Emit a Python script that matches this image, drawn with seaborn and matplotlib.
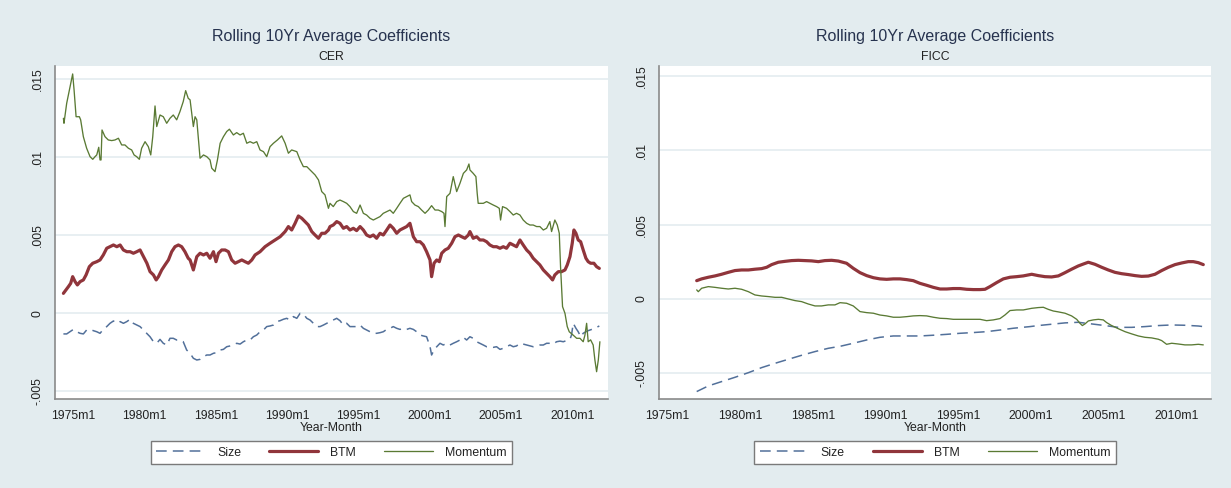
import numpy as np
import pandas as pd
import matplotlib
matplotlib.use("Agg")
import matplotlib.pyplot as plt
import seaborn as sns

# ---------------- DATA ----------------
# CER panel
cer_mom_year = [1974.29,1974.33,1974.52,1974.71,1974.94,1975.04,1975.18,1975.41,1975.50,1975.69,1975.92,1976.16,1976.35,1976.51,1976.63,1976.77,1976.86,1976.93,1977.00,1977.21,1977.44,1977.68,1977.91,1978.15,1978.38,1978.61,1978.85,1979.08,1979.25,1979.43,1979.62,1979.78,1980.02,1980.25,1980.42,1980.56,1980.72,1980.84,1981.07,1981.30,1981.54,1981.77,1982.00,1982.24,1982.47,1982.70,1982.87,1983.05,1983.18,1983.41,1983.53,1983.65,1983.76,1983.88,1984.12,1984.35,1984.58,1984.70,1984.93,1985.10,1985.29,1985.52,1985.75,1985.94,1986.22,1986.45,1986.69,1986.92,1987.16,1987.39,1987.62,1987.86,1988.09,1988.33,1988.56,1988.79,1989.03,1989.31,1989.61,1989.85,1990.08,1990.31,1990.67,1990.90,1991.13,1991.37,1991.60,1991.95,1992.19,1992.42,1992.65,1992.89,1993.00,1993.23,1993.47,1993.70,1993.94,1994.17,1994.40,1994.64,1994.87,1995.11,1995.34,1995.57,1995.81,1996.04,1996.27,1996.51,1996.74,1996.98,1997.21,1997.44,1997.68,1997.91,1998.15,1998.38,1998.61,1998.73,1998.96,1999.20,1999.43,1999.67,1999.90,2000.13,2000.37,2000.60,2000.84,2001.00,2001.07,2001.19,2001.42,2001.65,2001.89,2002.12,2002.36,2002.59,2002.75,2002.82,2003.05,2003.24,2003.33,2003.40,2003.76,2003.99,2004.22,2004.46,2004.69,2004.88,2004.97,2005.11,2005.39,2005.63,2005.86,2006.09,2006.33,2006.56,2006.80,2007.03,2007.26,2007.50,2007.73,2007.97,2008.20,2008.43,2008.55,2008.78,2008.95,2009.09,2009.18,2009.32,2009.49,2009.65,2009.79,2010.07,2010.31,2010.54,2010.77,2010.89,2011.01,2011.12,2011.29,2011.47,2011.59,2011.71,2011.83,2011.94]
cer_mom_val = [.01250,.01218,.01346,.01430,.01534,.01430,.01260,.01260,.01240,.01132,.01058,.01004,.00987,.01004,.01015,.01064,.00983,.00983,.01175,.01132,.01111,.01107,.01111,.01122,.01079,.01079,.01058,.01047,.01015,.01004,.00987,.01058,.01100,.01068,.01015,.01132,.01329,.01197,.01271,.01260,.01218,.01250,.01271,.01240,.01293,.01357,.01427,.01378,.01368,.01197,.01260,.01240,.01122,.00994,.01015,.01004,.00983,.00930,.00908,.00983,.01090,.01132,.01165,.01180,.01143,.01158,.01143,.01154,.01090,.01100,.01090,.01100,.01047,.01036,.01004,.01068,.01090,.01111,.01137,.01090,.01026,.01047,.01036,.00983,.00940,.00940,.00919,.00887,.00855,.00780,.00759,.00673,.00705,.00684,.00716,.00726,.00716,.00705,.00684,.00652,.00641,.00694,.00641,.00630,.00609,.00598,.00609,.00620,.00641,.00652,.00662,.00641,.00673,.00705,.00737,.00748,.00759,.00716,.00694,.00684,.00662,.00641,.00662,.00690,.00662,.00662,.00652,.00641,.00556,.00748,.00769,.00876,.00780,.00833,.00897,.00919,.00957,.00919,.00897,.00876,.00769,.00705,.00705,.00716,.00705,.00694,.00684,.00673,.00598,.00684,.00673,.00652,.00630,.00641,.00630,.00598,.00577,.00566,.00566,.00556,.00556,.00534,.00545,.00588,.00524,.00598,.00566,.00513,.00299,.00043,.00000,-.00085,-.00118,-.00140,-.00160,-.00160,-.00182,-.00140,-.00064,-.00182,-.00170,-.00203,-.00299,-.00374,-.00299,-.00182]

cer_btm_year = [1974.29,1974.47,1974.64,1974.80,1974.94,1975.11,1975.27,1975.46,1975.69,1975.88,1976.11,1976.35,1976.63,1976.86,1977.09,1977.33,1977.56,1977.80,1978.04,1978.27,1978.50,1978.74,1978.97,1979.20,1979.44,1979.67,1979.91,1980.15,1980.37,1980.61,1980.80,1980.96,1981.19,1981.42,1981.66,1981.89,1982.12,1982.36,1982.59,1982.82,1983.05,1983.18,1983.41,1983.65,1983.88,1984.12,1984.35,1984.58,1984.82,1985.00,1985.17,1985.40,1985.64,1985.87,1986.10,1986.34,1986.57,1986.81,1987.04,1987.27,1987.51,1987.74,1988.09,1988.44,1988.79,1989.15,1989.50,1989.85,1990.08,1990.31,1990.55,1990.78,1991.02,1991.25,1991.48,1991.72,1991.95,1992.19,1992.42,1992.65,1992.89,1993.00,1993.23,1993.47,1993.70,1993.94,1994.17,1994.40,1994.64,1994.87,1995.11,1995.34,1995.57,1995.81,1996.04,1996.27,1996.51,1996.74,1996.98,1997.21,1997.44,1997.68,1997.91,1998.15,1998.38,1998.61,1998.85,1999.08,1999.32,1999.55,1999.78,2000.02,2000.13,2000.30,2000.49,2000.67,2000.84,2001.07,2001.30,2001.54,2001.77,2002.01,2002.24,2002.47,2002.71,2002.82,2003.05,2003.29,2003.52,2003.76,2003.99,2004.22,2004.46,2004.69,2004.93,2005.16,2005.39,2005.63,2005.86,2006.09,2006.33,2006.56,2006.80,2007.03,2007.26,2007.50,2007.73,2007.97,2008.20,2008.43,2008.62,2008.78,2009.02,2009.25,2009.49,2009.65,2009.84,2010.00,2010.12,2010.26,2010.42,2010.59,2010.77,2010.96,2011.12,2011.29,2011.52,2011.71,2011.90]
cer_btm_val = [.00128,.00150,.00171,.00192,.00235,.00203,.00182,.00203,.00214,.00246,.00299,.00321,.00331,.00342,.00374,.00417,.00427,.00438,.00427,.00438,.00406,.00395,.00395,.00385,.00395,.00406,.00363,.00321,.00267,.00246,.00214,.00235,.00278,.00310,.00342,.00395,.00427,.00438,.00427,.00395,.00353,.00342,.00278,.00363,.00385,.00374,.00385,.00353,.00395,.00331,.00385,.00406,.00406,.00395,.00342,.00321,.00331,.00342,.00331,.00321,.00342,.00374,.00395,.00427,.00449,.00470,.00491,.00524,.00556,.00534,.00577,.00624,.00609,.00588,.00566,.00524,.00502,.00481,.00513,.00513,.00534,.00556,.00566,.00588,.00577,.00545,.00556,.00534,.00545,.00530,.00556,.00534,.00502,.00491,.00502,.00481,.00513,.00502,.00534,.00566,.00545,.00513,.00534,.00545,.00556,.00577,.00491,.00459,.00459,.00438,.00395,.00342,.00235,.00321,.00342,.00331,.00385,.00406,.00417,.00449,.00491,.00502,.00491,.00481,.00502,.00524,.00481,.00491,.00470,.00470,.00459,.00438,.00427,.00427,.00417,.00427,.00417,.00449,.00438,.00427,.00470,.00438,.00406,.00385,.00353,.00331,.00310,.00278,.00256,.00235,.00214,.00246,.00267,.00267,.00278,.00310,.00363,.00449,.00534,.00513,.00470,.00459,.00406,.00353,.00331,.00321,.00321,.00299,.00288]

cer_size_year = [1974.29,1974.52,1974.75,1974.99,1975.22,1975.46,1975.69,1975.92,1976.16,1976.39,1976.63,1976.86,1977.09,1977.33,1977.56,1977.80,1978.04,1978.27,1978.50,1978.74,1978.97,1979.20,1979.44,1979.67,1979.91,1980.15,1980.37,1980.61,1980.84,1981.07,1981.30,1981.54,1981.77,1982.00,1982.24,1982.47,1982.70,1982.94,1983.18,1983.41,1983.65,1983.88,1984.12,1984.35,1984.58,1984.82,1985.05,1985.29,1985.52,1985.75,1985.99,1986.22,1986.45,1986.69,1986.92,1987.16,1987.39,1987.62,1987.86,1988.09,1988.33,1988.56,1988.79,1989.03,1989.26,1989.50,1989.73,1989.96,1990.20,1990.43,1990.67,1990.90,1991.13,1991.37,1991.60,1991.83,1992.07,1992.30,1992.54,1992.77,1993.00,1993.23,1993.47,1993.70,1993.94,1994.17,1994.40,1994.64,1994.87,1995.11,1995.34,1995.57,1995.81,1996.04,1996.27,1996.51,1996.74,1996.98,1997.21,1997.44,1997.68,1997.91,1998.15,1998.38,1998.61,1998.85,1999.08,1999.32,1999.55,1999.78,2000.02,2000.13,2000.30,2000.49,2000.72,2000.95,2001.19,2001.42,2001.65,2001.89,2002.12,2002.36,2002.59,2002.82,2003.05,2003.29,2003.52,2003.76,2003.99,2004.22,2004.46,2004.69,2004.93,2005.16,2005.39,2005.63,2005.86,2006.09,2006.33,2006.56,2006.80,2007.03,2007.26,2007.50,2007.73,2007.97,2008.20,2008.43,2008.67,2008.90,2009.14,2009.37,2009.60,2009.84,2009.95,2010.07,2010.26,2010.42,2010.59,2010.77,2010.96,2011.12,2011.36,2011.59,2011.90]
cer_size_val = [-.00132,-.00132,-.00118,-.00103,-.00118,-.00128,-.00132,-.00107,-.00103,-.00111,-.00118,-.00128,-.00103,-.00085,-.00064,-.00049,-.00064,-.00053,-.00064,-.00053,-.00038,-.00064,-.00075,-.00085,-.00107,-.00128,-.00150,-.00182,-.00192,-.00167,-.00192,-.00203,-.00160,-.00160,-.00171,-.00171,-.00182,-.00235,-.00256,-.00288,-.00299,-.00295,-.00278,-.00267,-.00267,-.00256,-.00252,-.00235,-.00231,-.00214,-.00209,-.00203,-.00192,-.00197,-.00182,-.00171,-.00171,-.00150,-.00139,-.00118,-.00107,-.00085,-.00081,-.00075,-.00053,-.00047,-.00038,-.00032,-.00043,-.00021,-.00032,.00000,-.00004,-.00032,-.00043,-.00064,-.00085,-.00085,-.00075,-.00064,-.00053,-.00043,-.00032,-.00047,-.00075,-.00064,-.00085,-.00085,-.00085,-.00075,-.00096,-.00107,-.00118,-.00128,-.00128,-.00124,-.00118,-.00103,-.00096,-.00085,-.00096,-.00103,-.00096,-.00103,-.00096,-.00103,-.00118,-.00139,-.00145,-.00150,-.00214,-.00267,-.00235,-.00214,-.00192,-.00203,-.00192,-.00203,-.00192,-.00182,-.00171,-.00154,-.00171,-.00150,-.00160,-.00182,-.00192,-.00203,-.00214,-.00214,-.00218,-.00214,-.00231,-.00224,-.00214,-.00203,-.00214,-.00209,-.00192,-.00197,-.00203,-.00209,-.00214,-.00209,-.00203,-.00203,-.00192,-.00192,-.00197,-.00182,-.00178,-.00182,-.00175,-.00167,-.00139,-.00064,-.00096,-.00118,-.00150,-.00128,-.00118,-.00111,-.00103,-.00096,-.00081]

# FICC panel
ficc_btm_year = [1977.02,1977.36,1977.82,1978.28,1978.73,1979.19,1979.65,1980.11,1980.57,1981.02,1981.48,1981.83,1982.17,1982.63,1983.09,1983.54,1984.00,1984.46,1984.92,1985.38,1985.83,1986.29,1986.75,1987.32,1987.78,1988.24,1988.70,1989.16,1989.61,1990.07,1990.53,1990.99,1991.45,1991.90,1992.36,1992.82,1993.28,1993.74,1994.20,1994.65,1995.11,1995.57,1996.03,1996.49,1996.83,1997.17,1997.63,1998.09,1998.55,1999.01,1999.46,2000.04,2000.49,2000.95,2001.41,2001.87,2002.33,2002.78,2003.24,2003.59,2003.93,2004.39,2004.85,2005.30,2005.76,2006.22,2006.68,2007.14,2007.59,2008.05,2008.51,2008.97,2009.43,2009.89,2010.34,2010.80,2011.14,2011.49,2011.83]
ficc_btm_val = [.00123,.00135,.00146,.00155,.00166,.00179,.00191,.00195,.00195,.00200,.00204,.00213,.00231,.00247,.00253,.00258,.00260,.00258,.00256,.00251,.00258,.00260,.00255,.00240,.00206,.00177,.00157,.00143,.00135,.00132,.00135,.00135,.00130,.00123,.00105,.00092,.00078,.00067,.00067,.00070,.00070,.00065,.00063,.00063,.00065,.00083,.00110,.00135,.00146,.00150,.00155,.00166,.00157,.00150,.00148,.00155,.00177,.00200,.00222,.00235,.00247,.00233,.00213,.00195,.00179,.00170,.00164,.00157,.00152,.00154,.00166,.00191,.00213,.00231,.00242,.00251,.00251,.00244,.00231]

ficc_mom_year = [1977.02,1977.13,1977.36,1977.82,1978.28,1978.73,1979.19,1979.65,1980.11,1980.57,1981.02,1981.48,1981.94,1982.40,1982.86,1983.31,1983.77,1984.23,1984.69,1985.15,1985.60,1986.06,1986.52,1986.87,1987.32,1987.78,1988.24,1988.70,1989.16,1989.61,1990.07,1990.53,1990.99,1991.45,1991.90,1992.36,1992.82,1993.28,1993.74,1994.20,1994.65,1995.11,1995.57,1996.03,1996.49,1996.94,1997.40,1997.86,1998.20,1998.55,1999.01,1999.46,2000.04,2000.49,2000.84,2001.18,2001.52,2001.87,2002.33,2002.78,2003.13,2003.36,2003.52,2003.70,2003.93,2004.27,2004.62,2004.96,2005.19,2005.53,2005.99,2006.45,2006.91,2007.37,2007.82,2008.28,2008.74,2008.97,2009.31,2009.66,2010.11,2010.57,2011.03,2011.49,2011.83]
ficc_mom_val = [.00061,.00049,.00072,.00083,.00078,.00072,.00067,.00072,.00065,.00049,.00027,.00020,.00016,.00011,.00011,.00000,-.00011,-.00018,-.00034,-.00047,-.00047,-.00040,-.00040,-.00025,-.00029,-.00047,-.00085,-.00092,-.00096,-.00108,-.00114,-.00123,-.00123,-.00119,-.00114,-.00112,-.00114,-.00123,-.00130,-.00132,-.00137,-.00137,-.00137,-.00137,-.00137,-.00146,-.00141,-.00132,-.00108,-.00078,-.00074,-.00074,-.00063,-.00058,-.00056,-.00070,-.00081,-.00087,-.00096,-.00114,-.00137,-.00164,-.00179,-.00168,-.00148,-.00141,-.00137,-.00141,-.00159,-.00179,-.00200,-.00220,-.00235,-.00249,-.00258,-.00262,-.00271,-.00280,-.00305,-.00298,-.00303,-.00309,-.00309,-.00305,-.00309]

ficc_size_year = [1977.02,1977.82,1978.73,1979.65,1980.57,1981.48,1982.40,1983.31,1984.23,1985.15,1986.06,1986.90,1987.78,1988.70,1989.61,1990.53,1991.45,1992.36,1993.28,1994.20,1995.11,1996.03,1996.94,1997.86,1998.78,1999.92,2000.49,2001.41,2002.33,2003.24,2004.16,2005.07,2005.99,2006.91,2007.82,2008.74,2009.66,2010.57,2011.49,2011.83]
ficc_size_val = [-.00623,-.00585,-.00556,-.00527,-.00496,-.00462,-.00433,-.00406,-.00379,-.00354,-.00332,-.00318,-.00298,-.00276,-.00258,-.00249,-.00249,-.00249,-.00244,-.00238,-.00231,-.00226,-.00220,-.00209,-.00197,-.00186,-.00179,-.00170,-.00161,-.00157,-.00168,-.00179,-.00191,-.00191,-.00186,-.00179,-.00175,-.00177,-.00182,-.00186]

series_names = ["Size", "BTM", "Momentum"]
panel_titles = ["Rolling 10Yr Average Coefficients", "Rolling 10Yr Average Coefficients"]
panel_subtitles = ["CER", "FICC"]
xtick_years = [1975, 1980, 1985, 1990, 1995, 2000, 2005, 2010]
xtick_labels = ["1975m1", "1980m1", "1985m1", "1990m1", "1995m1", "2000m1", "2005m1", "2010m1"]
ytick_vals = [-0.005, 0.0, 0.005, 0.01, 0.015]
ytick_labels = ["-.005", "0", ".005", ".01", ".015"]
x_label = "Year-Month"

# ---------------- STYLE ----------------
sns.set_theme(style="white")
plt.rcParams["font.family"] = ["Liberation Sans", "DejaVu Sans"]

BG = "#E3ECEF"
GRID = "#E6EEF1"
AXC = "#8A8A8A"
C_SIZE = "#52709A"
C_BTM = "#90353B"
C_MOM = "#5A7A34"
TXT = "#222222"

W, H = 1231, 488
fig = plt.figure(figsize=(W / 100, H / 100), dpi=100, facecolor=BG)

def px_axes(x0, x1, y0, y1):
    return fig.add_axes([x0 / W, 1 - y1 / H, (x1 - x0) / W, (y1 - y0) / H])

panels = [
    dict(rect=(55, 608, 66, 399), xlim=(1973.70, 2012.51), ylim=(-0.00549, 0.01585),
         data=[(cer_size_year, cer_size_val), (cer_btm_year, cer_btm_val), (cer_mom_year, cer_mom_val)]),
    dict(rect=(659, 1211, 66, 399), xlim=(1974.43, 2012.36), ylim=(-0.00673, 0.01567),
         data=[(ficc_size_year, ficc_size_val), (ficc_btm_year, ficc_btm_val), (ficc_mom_year, ficc_mom_val)]),
]

styles = [
    dict(color=C_SIZE, linewidth=1.1, linestyle=(0, (7, 4))),
    dict(color=C_BTM, linewidth=2.3, linestyle="-"),
    dict(color=C_MOM, linewidth=0.95, linestyle="-"),
]

for i, p in enumerate(panels):
    x0, x1, y0, y1 = p["rect"]
    ax = px_axes(x0, x1, y0, y1)
    ax.set_facecolor("white")
    for (yr, vals), name, st in zip(p["data"], series_names, styles):
        df = pd.DataFrame({"year": yr, "value": vals})
        sns.lineplot(data=df, x="year", y="value", ax=ax, estimator=None, sort=True,
                     label=name, **st)
    ax.set_xlim(*p["xlim"])
    ax.set_ylim(*p["ylim"])
    ax.set_xticks(xtick_years)
    ax.set_xticklabels(xtick_labels, fontsize=8.8, color=TXT)
    ax.set_yticks(ytick_vals)
    ax.set_yticklabels(ytick_labels, fontsize=8.8, color=TXT, rotation=90, va="center")
    ax.tick_params(axis="both", which="major", length=4, width=1.0, color=AXC, direction="out")
    ax.tick_params(axis="x", pad=4)
    ax.tick_params(axis="y", pad=4)
    ax.set_xlabel("")
    ax.set_ylabel("")
    ax.yaxis.grid(True, color=GRID, linewidth=1.3)
    ax.xaxis.grid(False)
    ax.set_axisbelow(True)
    for s in ["top", "right"]:
        ax.spines[s].set_visible(False)
    for s in ["left", "bottom"]:
        ax.spines[s].set_color(AXC)
        ax.spines[s].set_linewidth(1.2)

    handles, labels = ax.get_legend_handles_labels()
    if ax.get_legend() is not None:
        ax.get_legend().remove()

    cx = (x0 + x1) / 2 / W
    fig.text(cx, 1 - 36 / H, panel_titles[i], ha="center", va="center",
             fontsize=11.5, color="#27334F")
    fig.text(cx, 1 - 57 / H, panel_subtitles[i], ha="center", va="center",
             fontsize=8.8, color=TXT)
    fig.text(cx, 1 - 428 / H, x_label, ha="center", va="center", fontsize=8.8, color=TXT)

    leg = fig.legend(handles, labels, loc="center", bbox_to_anchor=(cx, 1 - 452.5 / H),
                     ncol=3, frameon=True, fancybox=False, framealpha=1,
                     edgecolor="#7A7A7A", facecolor="white", fontsize=8.8,
                     handlelength=4.0, handletextpad=1.0, columnspacing=2.3,
                     borderpad=0.45)
    leg.get_frame().set_linewidth(1.0)
    for t in leg.get_texts():
        t.set_color(TXT)

fig.savefig("out.png", dpi=100, facecolor=BG)
